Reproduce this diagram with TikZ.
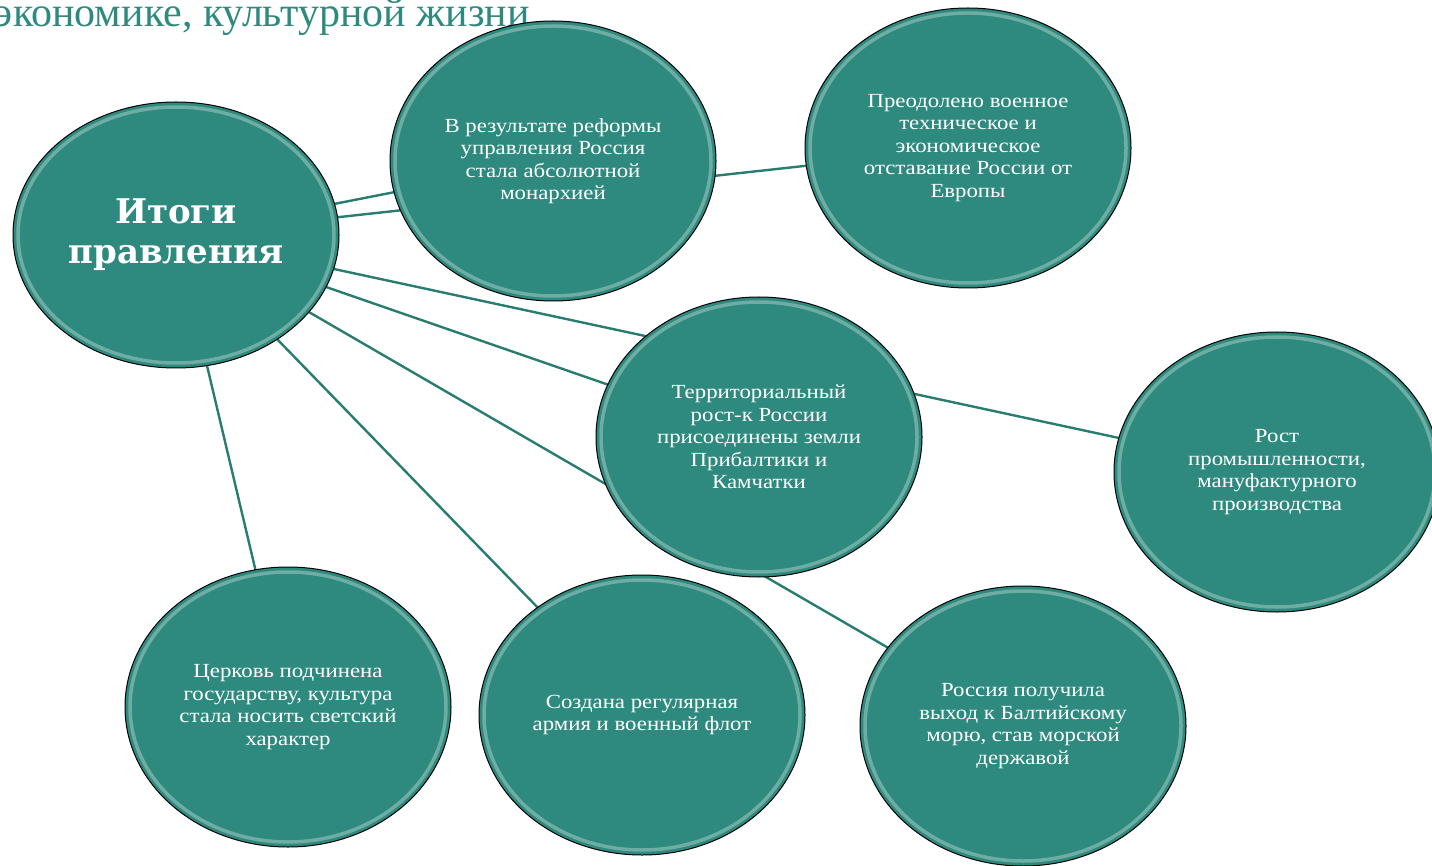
\documentclass[tikz,border=0pt]{standalone}
\usepackage{fontspec}
\setmainfont{Liberation Serif}
\newfontfamily\headfont{DejaVu Serif}
\newfontfamily\bubblefont[FakeStretch=1.14]{Liberation Serif}
\usetikzlibrary{shapes.geometric,calc}
\definecolor{itogteal}{RGB}{46,138,126}
\definecolor{itoglink}{RGB}{40,124,112}
\pgfdeclarelayer{bg}
\pgfsetlayers{bg,main}
\tikzset{
    bubble/.style={ellipse, draw=black, line width=1pt, fill=itogteal,
        minimum width=326pt, minimum height=280pt, inner sep=0pt,
        align=center, text=white, font=\bubblefont\fontsize{20}{22.5}\selectfont,
        path picture={
            \draw[white, opacity=.3, line width=3.5pt]
                let \p1=(path picture bounding box.south west),
                    \p2=(path picture bounding box.north east) in
                (path picture bounding box.center)
                ellipse [x radius={abs(\x2-\x1)/2-5pt}, y radius={abs(\y2-\y1)/2-5pt}];
        }},
    link/.style={draw=itoglink, line width=2.4pt}
}

\begin{document}
\begin{tikzpicture}[x=1pt, y=-1pt]
        \useasboundingbox (0,0) rectangle (1432,866);
        \clip (0,0) rectangle (1432,866);
        \node (head) [anchor=base east, text=itogteal, font=\fontsize{42}{42}\selectfont,
            inner sep=0pt] at (530,27) {экономике, культурной жизни};
        \node (itog) [bubble, minimum height=266pt, font=\headfont\bfseries\fontsize{34}{40}\selectfont]
            at (176,235) {Итоги\\правления};
        \node (reform) [bubble] at (553,161) {В результате реформы\\управления Россия\\стала абсолютной\\монархией};
        \node (lag) [bubble] at (968,148) {Преодолено военное\\техническое и\\экономическое\\отставание России от\\Европы};
        \node (terr) [bubble] at (759,437) {Территориальный\\рост-к России\\присоединены земли\\Прибалтики и\\Камчатки};
        \node (manuf) [bubble] at (1277,472) {Рост\\промышленности,\\мануфактурного\\производства};
        \node (church) [bubble] at (288,707) {Церковь подчинена\\государству, культура\\стала носить светский\\характер};
        \node (army) [bubble] at (642,715) {Создана регулярная\\армия и военный флот};
        \node (baltic) [bubble] at (1023,726) {Россия получила\\выход к Балтийскому\\морю, став морской\\державой};
        \begin{pgfonlayer}{bg}
                \draw [link] (itog.center) -- (reform.center);
                \draw [link] (itog.center) -- (lag.center);
                \draw [link] (itog.center) -- (terr.center);
                \draw [link] (itog.center) -- (manuf.center);
                \draw [link] (itog.center) -- (baltic.center);
                \draw [link] (itog.center) -- (army.center);
                \draw [link] (itog.center) -- (church.center);
        \end{pgfonlayer}
\end{tikzpicture}
\end{document}
